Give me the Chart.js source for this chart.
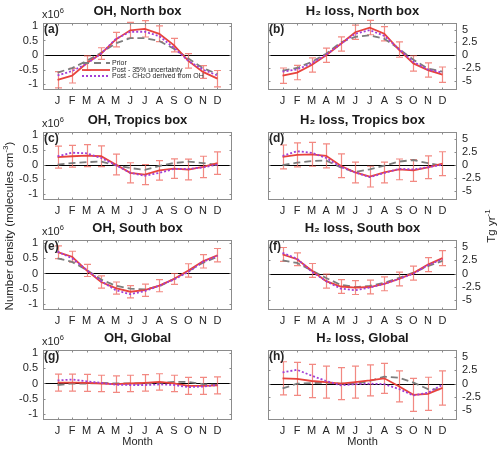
<!DOCTYPE html>
<html><head><meta charset="utf-8">
<script src="https://cdn.jsdelivr.net/npm/chart.js@4.4.1/dist/chart.umd.min.js"></script>
<style>
html,body{margin:0;padding:0;background:#fff;}
body{width:500px;height:450px;position:relative;overflow:hidden;font-family:"Liberation Sans",Arial,sans-serif;color:#262626;}
canvas{position:absolute;}
.t{position:absolute;white-space:nowrap;color:#262626;}
.pl{font-weight:bold;font-size:12px;line-height:14px;}
.ex{font-size:11px;line-height:11px;}
.ex sup{font-size:7.5px;vertical-align:5px;line-height:0;}
.yl{font-size:11.5px;transform:translate(-50%,-50%) rotate(-90deg);}
.yl sup{font-size:8px;vertical-align:5px;line-height:0;}
.lg{position:absolute;font-size:7px;line-height:6.6px;color:#262626;}
.lg div{display:flex;align-items:center;height:6.6px;white-space:nowrap;}
.lg svg{margin-right:2px;}
.lg sub{font-size:5px;vertical-align:-2px;line-height:0;}
</style></head><body>
<script>
// ---------- data ----------
const months = ['J','F','M','A','M','J','J','A','S','O','N','D'];
const ohTicks = [-1, -0.5, 0, 0.5, 1];
const h2Ticks = [-5, -2.5, 0, 2.5, 5];

// (a) OH, North box  (x10^6 molecules cm-3)
const ohNorthPrior = [-0.60,-0.45,-0.20,0.08,0.40,0.58,0.58,0.48,0.22,-0.12,-0.45,-0.65];
const ohNorthPost  = [-0.85,-0.71,-0.28,0.05,0.53,0.85,0.90,0.73,0.34,-0.20,-0.58,-0.81];
const ohNorthCh2o  = [-0.70,-0.55,-0.30,0.05,0.55,0.80,0.80,0.65,0.25,-0.20,-0.50,-0.70];
const ohNorthErr   = [0.28,0.25,0.25,0.20,0.25,0.27,0.28,0.27,0.23,0.25,0.22,0.28];
// (b) H2 loss, North box (Tg yr-1)
const h2NorthPrior = [-3.0,-2.5,-1.3,0.3,2.5,3.6,3.9,3.2,1.3,-0.9,-2.6,-3.2];
const h2NorthPost  = [-4.0,-3.4,-1.9,0.0,2.2,4.5,5.4,4.2,1.1,-1.6,-2.9,-3.8];
const h2NorthCh2o  = [-3.2,-2.8,-1.6,0.1,2.2,4.2,4.9,3.8,1.2,-1.3,-2.8,-3.4];
const h2NorthErr   = [1.5,1.4,1.4,1.4,1.4,1.4,1.4,1.4,1.5,1.5,1.4,1.5];
// (c) OH, Tropics box
const ohTropPrior = [0.00,0.05,0.08,0.10,-0.02,-0.12,-0.18,-0.05,0.05,0.10,0.05,-0.02];
const ohTropPost  = [0.25,0.28,0.30,0.28,0.00,-0.28,-0.34,-0.20,-0.14,-0.17,-0.08,0.05];
const ohTropCh2o  = [0.28,0.40,0.38,0.22,-0.02,-0.28,-0.38,-0.28,-0.15,-0.15,-0.10,0.00];
const ohTropErr   = [0.37,0.37,0.37,0.35,0.35,0.34,0.34,0.33,0.33,0.35,0.36,0.38];
// (d) H2 loss, Tropics box
const h2TropPrior = [-0.1,0.4,0.7,0.8,-0.5,-1.4,-0.9,-0.2,0.6,0.9,0.3,-0.2];
const h2TropPost  = [1.5,1.9,2.0,1.7,-0.2,-1.5,-2.3,-1.5,-0.9,-1.1,-0.5,0.2];
const h2TropCh2o  = [1.7,2.6,2.3,1.3,-0.4,-1.5,-2.4,-1.6,-0.8,-0.9,-0.5,0.0];
const h2TropErr   = [2.3,2.3,2.3,2.3,2.3,2.0,2.0,2.0,2.0,2.1,2.2,2.3];
// (e) OH, South box
const ohSouthPrior = [0.50,0.38,0.12,-0.20,-0.40,-0.50,-0.52,-0.42,-0.18,0.08,0.35,0.55];
const ohSouthPost  = [0.70,0.55,0.10,-0.28,-0.48,-0.60,-0.55,-0.40,-0.18,0.10,0.40,0.60];
const ohSouthCh2o  = [0.72,0.50,0.12,-0.25,-0.55,-0.68,-0.58,-0.40,-0.20,0.05,0.38,0.58];
const ohSouthErr   = [0.21,0.18,0.20,0.20,0.20,0.20,0.20,0.20,0.18,0.22,0.22,0.22];
// (f) H2 loss, South box
const h2SouthPrior = [2.5,2.0,0.6,-0.8,-2.1,-2.5,-2.3,-1.7,-0.8,0.2,1.4,2.4];
const h2SouthPost  = [3.6,2.7,0.6,-1.4,-2.4,-2.6,-2.5,-1.9,-1.0,0.1,1.7,2.9];
const h2SouthCh2o  = [3.9,2.8,0.4,-1.4,-2.8,-3.1,-2.6,-1.9,-1.0,0.0,1.6,2.7];
const h2SouthErr   = [1.3,1.2,1.3,1.3,1.3,1.3,1.3,1.3,1.3,1.3,1.3,1.4];
// (g) OH, Global
const ohGlobPrior = [-0.05,0.00,0.00,0.02,0.00,0.00,0.00,0.02,0.05,0.05,-0.02,-0.05];
const ohGlobPost  = [0.03,0.03,0.02,0.00,-0.02,0.00,0.02,0.05,0.00,-0.08,-0.08,-0.06];
const ohGlobCh2o  = [0.10,0.13,0.07,0.02,-0.04,-0.05,-0.05,-0.03,-0.05,-0.12,-0.10,-0.05];
const ohGlobErr   = [0.28,0.28,0.28,0.27,0.27,0.27,0.27,0.27,0.27,0.28,0.28,0.28];
// (h) H2 loss, Global
const h2GlobPrior = [-0.9,0.0,0.1,0.2,0.0,0.0,0.5,1.3,1.1,0.2,-1.0,-1.1];
const h2GlobPost  = [1.0,0.9,0.5,0.3,0.0,0.3,0.6,1.0,-0.5,-2.1,-1.9,-0.8];
const h2GlobCh2o  = [2.1,2.6,1.5,0.5,-0.3,-0.1,0.0,-0.1,-1.0,-2.2,-1.7,-0.2];
const h2GlobErr   = [3.1,3.1,3.1,3.0,3.0,3.0,2.9,2.8,2.9,3.1,3.1,3.2];

// ---------- layout ----------
const rowBox = [[23,90],[132,200],[240,310],[350,420]];
const colBox = [[43,232],[268,457]];
const ohRange = [-1.2, 1.1];
const h2Range = [-6.8, 6.3];

const panels = [
  {lab:'(a)', col:0,row:0, title:'OH, North box', prior:ohNorthPrior, post:ohNorthPost, ch2o:ohNorthCh2o, err:ohNorthErr},
  {lab:'(b)', col:1,row:0, title:'H\u2082 loss, North box', prior:h2NorthPrior, post:h2NorthPost, ch2o:h2NorthCh2o, err:h2NorthErr},
  {lab:'(c)', col:0,row:1, title:'OH, Tropics box', prior:ohTropPrior, post:ohTropPost, ch2o:ohTropCh2o, err:ohTropErr},
  {lab:'(d)', col:1,row:1, title:'H\u2082 loss, Tropics box', prior:h2TropPrior, post:h2TropPost, ch2o:h2TropCh2o, err:h2TropErr},
  {lab:'(e)', col:0,row:2, title:'OH, South box', prior:ohSouthPrior, post:ohSouthPost, ch2o:ohSouthCh2o, err:ohSouthErr},
  {lab:'(f)', col:1,row:2, title:'H\u2082 loss, South box', prior:h2SouthPrior, post:h2SouthPost, ch2o:h2SouthCh2o, err:h2SouthErr},
  {lab:'(g)', col:0,row:3, title:'OH, Global', prior:ohGlobPrior, post:ohGlobPost, ch2o:ohGlobCh2o, err:ohGlobErr},
  {lab:'(h)', col:1,row:3, title:'H\u2082 loss, Global', prior:h2GlobPrior, post:h2GlobPost, ch2o:h2GlobCh2o, err:h2GlobErr}
];

Chart.defaults.font.family = '"Liberation Sans", Arial, sans-serif';
Chart.defaults.color = '#262626';
Chart.defaults.animation = false;

const BOX = '#8c8c8c';
const RED = '#e8433c';
const ERR = 'rgba(238,98,88,0.75)';
const GRAY = '#7d7d7d';
const PURPLE = '#a23fd6';

const framePlugin = {
  id: 'frame',
  beforeDatasetsDraw(chart) {
    const {ctx, chartArea: a, scales: {x, y}} = chart;
    ctx.save();
    const y0 = Math.round(y.getPixelForValue(0)) + 0.5;
    ctx.strokeStyle = '#000'; ctx.lineWidth = 1;
    ctx.beginPath(); ctx.moveTo(a.left, y0); ctx.lineTo(a.right, y0); ctx.stroke();
    const ds = chart.data.datasets.find(d => d.errorBars);
    if (ds) {
      ctx.strokeStyle = ERR; ctx.lineWidth = 1.2;
      ds.data.forEach((p, i) => {
        const e = ds.errorBars[i];
        const px = Math.round(x.getPixelForValue(p.x)) + 0.5;
        const t = y.getPixelForValue(p.y + e), b = y.getPixelForValue(p.y - e);
        ctx.beginPath();
        ctx.moveTo(px, t); ctx.lineTo(px, b);
        ctx.moveTo(px - 3.5, t); ctx.lineTo(px + 3.5, t);
        ctx.moveTo(px - 3.5, b); ctx.lineTo(px + 3.5, b);
        ctx.stroke();
      });
    }
    ctx.restore();
  },
  afterDraw(chart) {
    const {ctx, chartArea: a, scales: {x, y}} = chart;
    ctx.save();
    ctx.strokeStyle = BOX; ctx.lineWidth = 1;
    ctx.strokeRect(a.left + 0.5, a.top + 0.5, a.right - a.left - 1, a.bottom - a.top - 1);
    ctx.beginPath();
    x.ticks.forEach(t => {
      const px = Math.round(x.getPixelForValue(t.value)) + 0.5;
      ctx.moveTo(px, a.bottom); ctx.lineTo(px, a.bottom - 2.5);
      ctx.moveTo(px, a.top); ctx.lineTo(px, a.top + 2.5);
    });
    y.ticks.forEach(t => {
      const py = Math.round(y.getPixelForValue(t.value)) + 0.5;
      ctx.moveTo(a.left, py); ctx.lineTo(a.left + 2.5, py);
      ctx.moveTo(a.right, py); ctx.lineTo(a.right - 2.5, py);
    });
    ctx.stroke();
    ctx.restore();
  }
};

const TITLE_H = 22;
panels.forEach(p => {
  const [bt, bb] = rowBox[p.row];
  const [bl, br] = colBox[p.col];
  const bottomRow = p.row === 3;
  const xh = bottomRow ? 30 : 20;
  const colLeft = p.col === 0 ? 0 : 250;
  const cv = document.createElement('canvas');
  const W = 250, H = TITLE_H + (bb - bt) + xh;
  cv.width = W; cv.height = H;
  cv.style.left = colLeft + 'px';
  cv.style.top = (bt - TITLE_H) + 'px';
  cv.style.width = W + 'px'; cv.style.height = H + 'px';
  document.body.appendChild(cv);

  const isOH = p.col === 0;
  const yt = isOH ? ohTicks : h2Ticks;
  const yr = isOH ? ohRange : h2Range;
  const toXY = arr => arr.map((v, i) => ({x: i + 1, y: v}));

  new Chart(cv, {
    type: 'line',
    data: {
      datasets: [
        {label: 'Post - CH\u2082O derived from OH', data: toXY(p.ch2o), borderColor: PURPLE, borderWidth: 1.8, borderDash: [2, 2], pointRadius: 0, order: 1},
        {label: 'Post - 35% uncertainty', data: toXY(p.post), errorBars: p.err, borderColor: RED, borderWidth: 1.8, pointRadius: 0, order: 2},
        {label: 'Prior', data: toXY(p.prior), borderColor: GRAY, borderWidth: 1.8, borderDash: [7, 4], pointRadius: 0, order: 3}
      ]
    },
    options: {
      responsive: false,
      animation: false,
      layout: {padding: {top: 0, bottom: 0, left: isOH ? 0 : (bl - colLeft), right: isOH ? (colLeft + 250 - br) : 0}},
      plugins: {
        legend: {display: false},
        tooltip: {enabled: false},
        title: {display: true, text: p.title, fullSize: false, color: '#1a1a1a',
                font: {size: 13, weight: 'bold'}, padding: {top: 3, bottom: 3.4}}
      },
      scales: {
        x: {
          type: 'linear', min: 0, max: 13, position: 'bottom',
          afterBuildTicks: s => { s.ticks = months.map((m, i) => ({value: i + 1})); },
          afterFit: s => { s.height = xh; },
          grid: {display: false, drawTicks: false},
          border: {display: false},
          ticks: {autoSkip: false, maxRotation: 0, padding: 4, font: {size: 11}, color: '#262626',
                  callback: v => months[v - 1]},
          title: {display: bottomRow, text: 'Month', font: {size: 11}, color: '#262626', padding: {top: 0, bottom: 1.4}}
        },
        y: {
          type: 'linear', min: yr[0], max: yr[1], position: isOH ? 'left' : 'right',
          afterBuildTicks: s => { s.ticks = yt.map(v => ({value: v})); },
          afterFit: s => { s.width = isOH ? (bl - colLeft) : (colLeft + 250 - br); },
          grid: {display: false, drawTicks: false},
          border: {display: false},
          ticks: {padding: 5, font: {size: 11}, color: '#262626', callback: v => String(v)}
        }
      }
    },
    plugins: [framePlugin]
  });

  const lab = document.createElement('div');
  lab.className = 't pl';
  lab.style.left = (bl + 1) + 'px';
  lab.style.top = (bt - 1) + 'px';
  lab.textContent = p.lab;
  document.body.appendChild(lab);

  if (isOH) {
    const ex = document.createElement('div');
    ex.className = 't ex';
    ex.style.left = (bl - 1) + 'px';
    ex.style.top = (bt - 14) + 'px';
    ex.innerHTML = 'x10<sup>6</sup>';
    document.body.appendChild(ex);
  }
});
</script>

<div class="t yl" style="left:9px;top:226px;">Number density (molecules cm<sup>-3</sup>)</div>
<div class="t yl" style="left:491px;top:226px;">Tg yr<sup>-1</sup></div>

<div class="lg" style="left:82px;top:60px;">
  <div><svg width="28" height="6"><line x1="0" y1="3" x2="28" y2="3" stroke="#7d7d7d" stroke-width="1.8" stroke-dasharray="7 5"/></svg>Prior</div>
  <div><svg width="28" height="6"><line x1="0" y1="3" x2="28" y2="3" stroke="#e8433c" stroke-width="1.8"/></svg>Post - 35% uncertainty</div>
  <div><svg width="28" height="6"><line x1="0" y1="3" x2="28" y2="3" stroke="#a23fd6" stroke-width="1.8" stroke-dasharray="2 2"/></svg>Post - CH<sub>2</sub>O derived from OH</div>
</div>
</body></html>
